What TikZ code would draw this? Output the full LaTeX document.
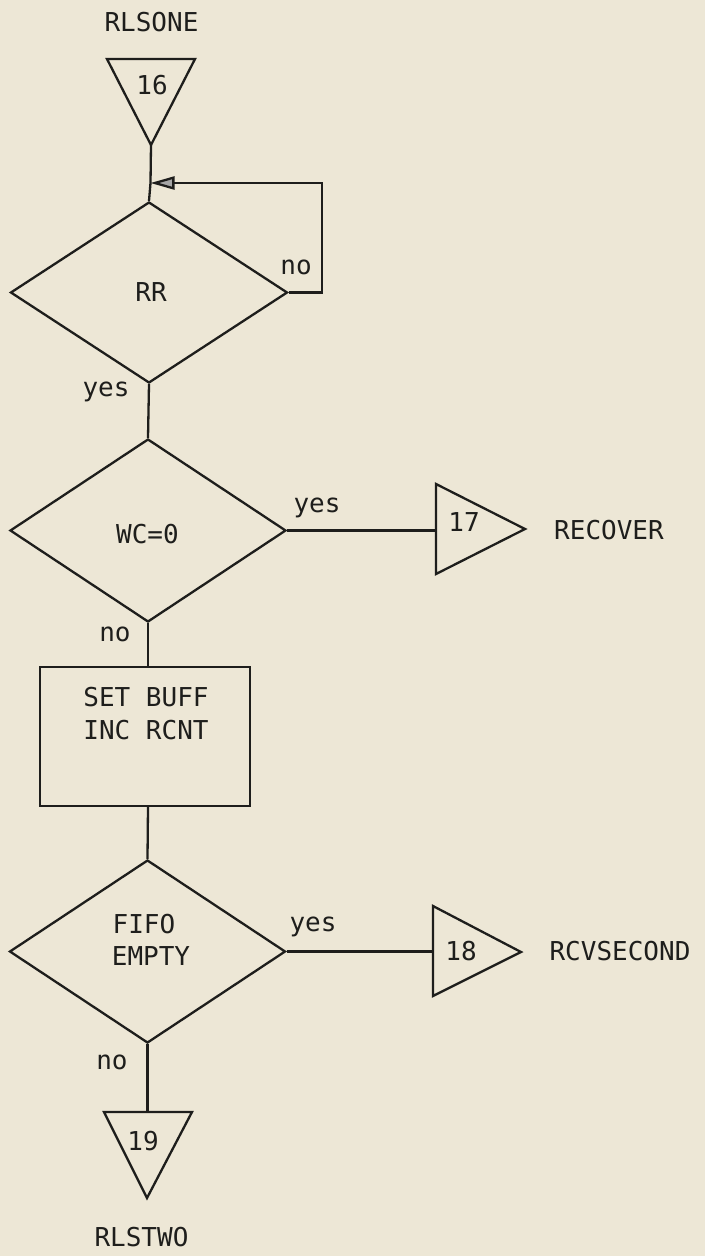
\documentclass[tikz,border=0pt]{standalone}
\usepackage{fontspec}
\newfontfamily\flowmono{DejaVu Sans Mono}
\usetikzlibrary{shapes.geometric,arrows.meta}
\definecolor{paper}{RGB}{237,231,214}
\definecolor{ink}{RGB}{30,30,28}
\begin{document}
\begin{tikzpicture}[x=1pt,y=-1pt,
  every node/.style={font=\flowmono\fontsize{26}{31}\selectfont, text=ink, inner sep=0pt},
  flowline/.style={draw=ink, line width=2.3pt, line join=miter},
  decision/.style={diamond, draw=ink, line width=2.3pt, inner sep=0pt},
  process/.style={rectangle, draw=ink, line width=2.3pt, inner sep=0pt},
  lbl/.style={anchor=center}]
\useasboundingbox (0,0) rectangle (705,1256);
\fill[paper] (0,0) rectangle (705,1256);

% connector triangles (vertices as named coordinates)
\coordinate (t16a) at (107,59);
\coordinate (t16b) at (195,59);
\coordinate (t16c) at (151,145);
\draw[flowline] (t16a) -- (t16b) -- (t16c) -- cycle;

\coordinate (t17a) at (436,484);
\coordinate (t17b) at (436,574);
\coordinate (t17c) at (525,529);
\draw[flowline] (t17a) -- (t17b) -- (t17c) -- cycle;

\coordinate (t18a) at (433,906);
\coordinate (t18b) at (433,996);
\coordinate (t18c) at (521,952);
\draw[flowline] (t18a) -- (t18b) -- (t18c) -- cycle;

\coordinate (t19a) at (104,1112);
\coordinate (t19b) at (192,1112);
\coordinate (t19c) at (147,1198);
\draw[flowline] (t19a) -- (t19b) -- (t19c) -- cycle;

% decisions and process
\node[decision, minimum width=277pt, minimum height=181pt] (rr) at (149,292.5) {};
\node[decision, minimum width=276pt, minimum height=183pt] (wc) at (148,530.5) {};
\node[process, minimum width=210pt, minimum height=139pt] (box) at (145,736.5) {};
\node[decision, minimum width=276pt, minimum height=183pt] (fifo) at (147.5,951.5) {};

% texts
\node[lbl] (tRLSONE) at (151.5,22.5) {RLSONE};
\node[lbl] (t16) at (152,85) {16};
\node[lbl] (tRR) at (151,292) {RR};
\node[lbl] (tno1) at (296,267) {no};
\node[lbl] (tyes1) at (106,392) {yes};
\node[lbl] (tWC) at (147.5,534) {WC=0};
\node[lbl] (tyes2) at (317,508) {yes};
\node[lbl] (t17) at (464,522) {17};
\node[lbl] (tRECOVER) at (609,530) {RECOVER};
\node[lbl] (tno2) at (115,634) {no};
\node[lbl] (tSET) at (146,697) {SET BUFF};
\node[lbl] (tINC) at (146,730) {INC RCNT};
\node[lbl] (tFIFO) at (144,924) {FIFO};
\node[lbl] (tEMPTY) at (151,956) {EMPTY};
\node[lbl] (tyes3) at (313,927) {yes};
\node[lbl] (t18) at (461,951) {18};
\node[lbl] (tRCV) at (620,951) {RCVSECOND};
\node[lbl] (tno3) at (112,1062) {no};
\node[lbl] (t19) at (143,1141) {19};
\node[lbl] (tRLSTWO) at (141.5,1237) {RLSTWO};

% connectors
\coordinate (junc) at (150.5,183);
\coordinate (loopc) at (322,292.5);
\draw[flowline] (t16c) -- (junc) -- (rr.north);
\draw[flowline, -{Triangle[length=24pt,width=13pt,fill=gray!70]}] (rr.east) -- (loopc) |- (junc);
\draw[flowline] (rr.south) -- (wc.north);
\draw[flowline] (wc.east) -- (wc.east -| t17a);
\draw[flowline] (wc.south) -- (wc.south |- box.north);
\draw[flowline] (wc.south |- box.south) -- (fifo.north);
\draw[flowline] (fifo.east) -- (fifo.east -| t18a);
\draw[flowline] (fifo.south) -- (fifo.south |- t19a);
\end{tikzpicture}
\end{document}
